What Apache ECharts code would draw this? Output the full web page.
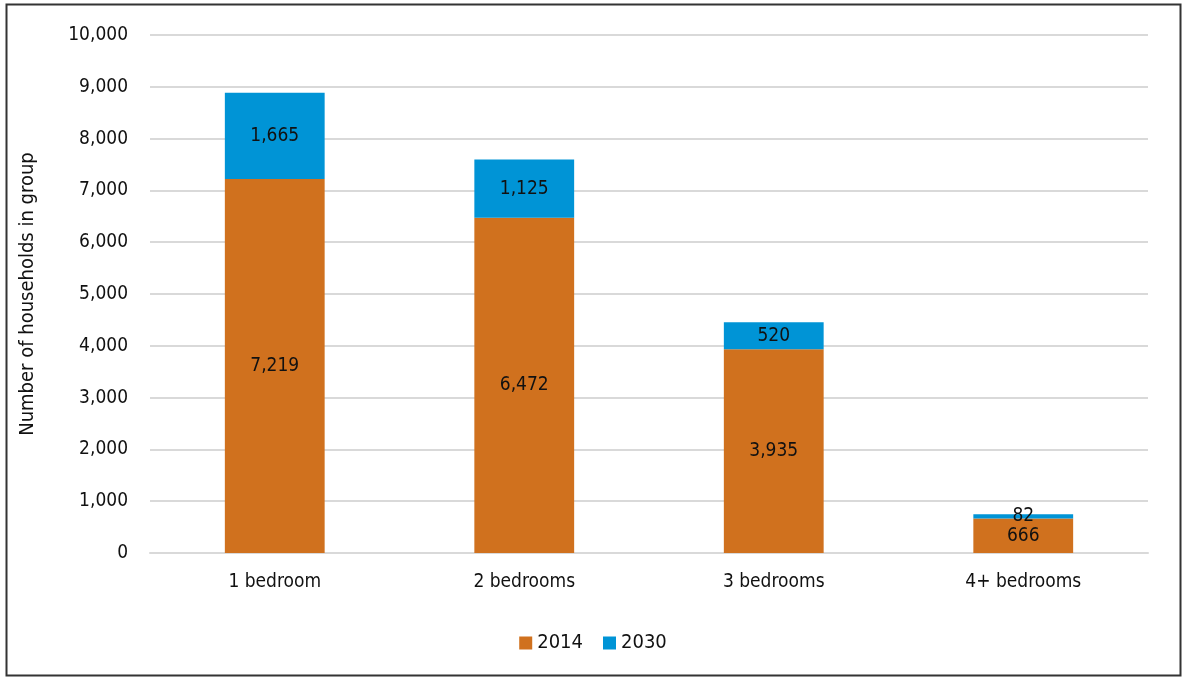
<!DOCTYPE html>
<html>
<head>
<meta charset="utf-8">
<script src="https://cdn.jsdelivr.net/npm/echarts@6/dist/echarts.min.js"></script>
<style>
  html, body { margin: 0; padding: 0; background: #fff; }
  #main { width: 1186px; height: 680px; }
</style>
</head>
<body>
<div id="main"></div>
<script>
    // values
    var categories = ['1 bedroom', '2 bedrooms', '3 bedrooms', '4+ bedrooms'];
    var values2014 = [7219, 6472, 3935, 666];
    var values2030 = [1665, 1125, 520, 82];
    var yTicks = [0, 1000, 2000, 3000, 4000, 5000, 6000, 7000, 8000, 9000, 10000];

    var FONT = '"Liberation Sans Narrow", "DejaVu Sans Condensed", "Liberation Sans", sans-serif';

    function fmt(v) {
        return String(v).replace(/\B(?=(\d{3})+(?!\d))/g, ',');
    }

    var chart = echarts.init(document.getElementById('main'));
    var option = {
        animation: false,
        textStyle: { fontFamily: FONT },
        graphic: [{
            type: 'rect',
            shape: { x: 6.5, y: 4.5, width: 1174, height: 671 },
            style: { fill: 'none', stroke: '#333', lineWidth: 2 },
            silent: true
        }],
        grid: { left: 150, right: 38, top: 35, bottom: 127 },
        legend: {
            bottom: 22,
            left: 'center',
            itemWidth: 13,
            itemHeight: 13,
            itemGap: 20,
            icon: 'rect',
            textStyle: { fontFamily: FONT, fontSize: 20, color: '#111' },
            data: ['2014', '2030']
        },
        xAxis: {
            type: 'category',
            data: categories,
            axisLine: { lineStyle: { color: '#d9d9d9', width: 2 } },
            axisTick: { show: false },
            axisLabel: { fontFamily: FONT, fontSize: 19, color: '#111', margin: 20 }
        },
        yAxis: {
            type: 'value',
            min: yTicks[0],
            max: yTicks[yTicks.length - 1],
            interval: 1000,
            name: 'Number of households in group',
            nameLocation: 'middle',
            nameGap: 112,
            nameTextStyle: { fontFamily: FONT, fontSize: 20, color: '#111' },
            axisLine: { show: false },
            axisTick: { show: false },
            splitLine: { lineStyle: { color: '#d9d9d9', width: 2 } },
            axisLabel: {
                fontFamily: FONT, fontSize: 19, color: '#111', margin: 22,
                formatter: function (v) { return fmt(v); }
            }
        },
        series: [
            {
                name: '2014',
                type: 'bar',
                stack: 'total',
                barWidth: '40%',
                data: values2014,
                itemStyle: { color: '#D0711E' },
                label: {
                    show: true, position: 'inside', color: '#111',
                    fontFamily: FONT, fontSize: 19,
                    formatter: function (p) { return fmt(p.value); }
                }
            },
            {
                name: '2030',
                type: 'bar',
                stack: 'total',
                barWidth: '40%',
                data: values2030,
                itemStyle: { color: '#0094D6' },
                label: {
                    show: true, position: 'inside', color: '#111',
                    fontFamily: FONT, fontSize: 19,
                    formatter: function (p) { return fmt(p.value); }
                }
            }
        ]
    };
    chart.setOption(option);
</script>
</body>
</html>
